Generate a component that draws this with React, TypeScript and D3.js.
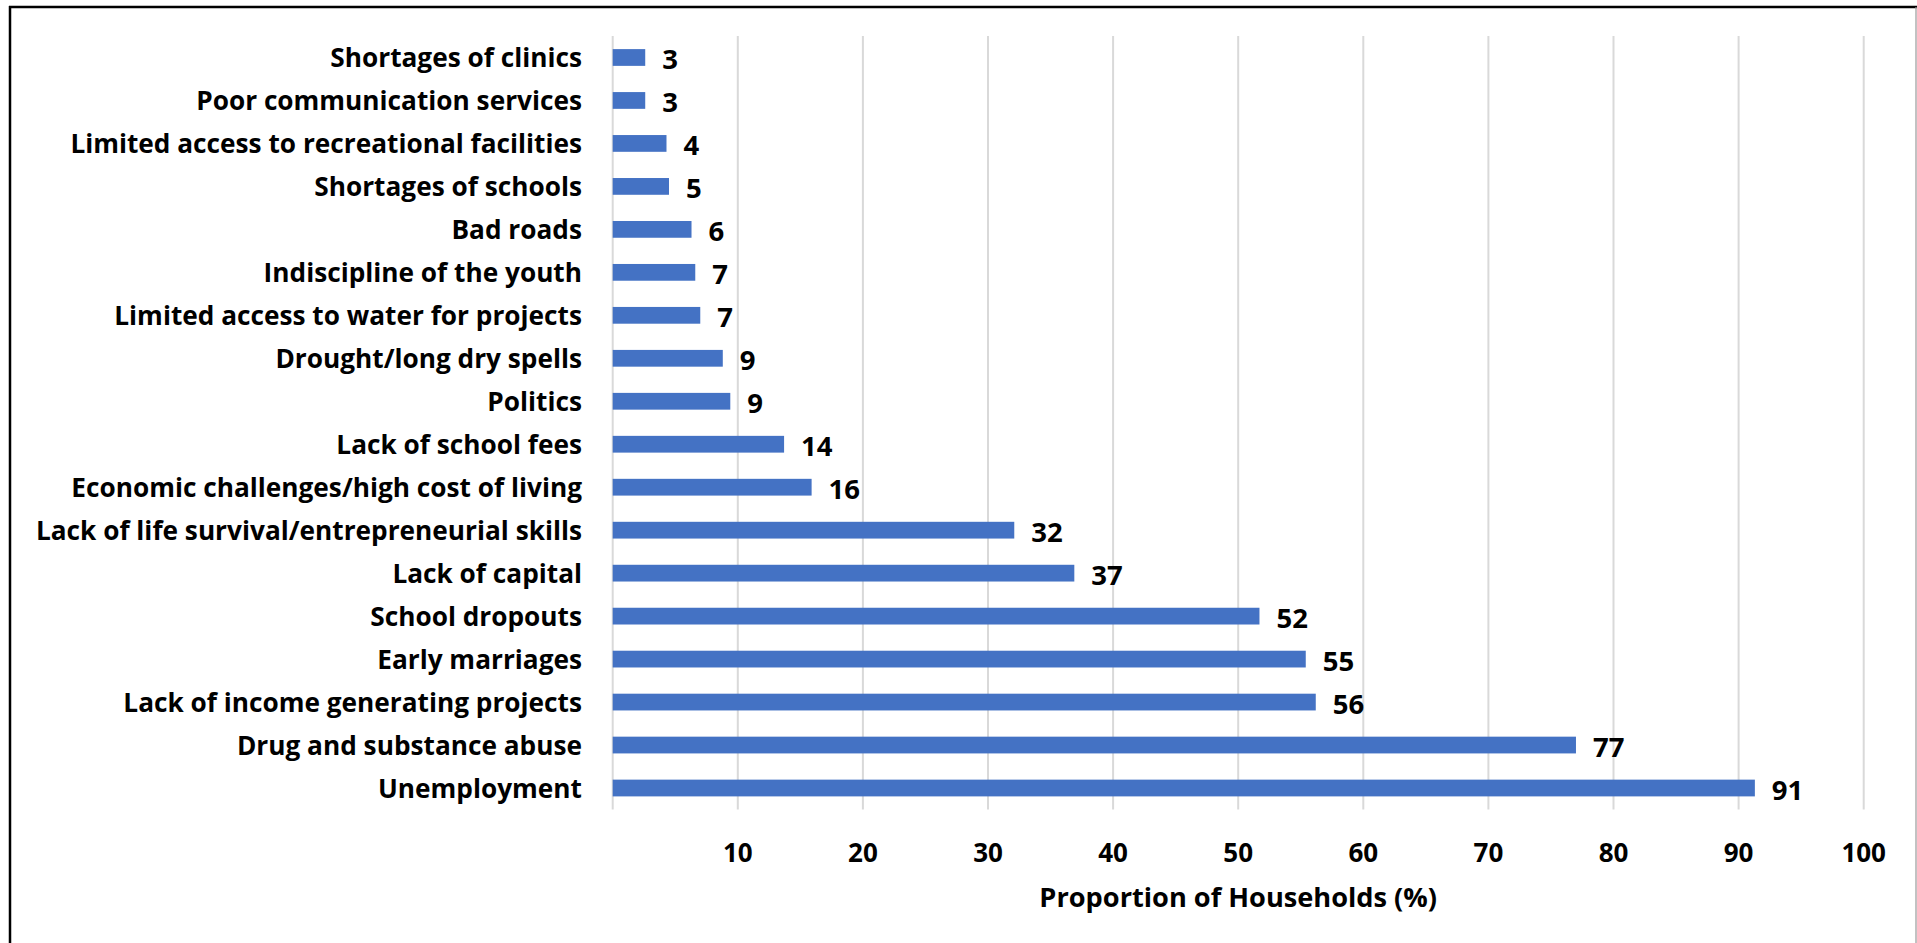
import React from "react";
import * as d3 from "d3";

const categories = [
  "Shortages of clinics",
  "Poor communication services",
  "Limited access to recreational facilities",
  "Shortages of schools",
  "Bad roads",
  "Indiscipline of the youth",
  "Limited access to water for projects",
  "Drought/long dry spells",
  "Politics",
  "Lack of school fees",
  "Economic challenges/high cost of living",
  "Lack of life survival/entrepreneurial skills",
  "Lack of capital",
  "School dropouts",
  "Early marriages",
  "Lack of income generating projects",
  "Drug and substance abuse",
  "Unemployment",
];

const values = [2.6, 2.6, 4.3, 4.5, 6.3, 6.6, 7.0, 8.8, 9.4, 13.7, 15.9, 32.1, 36.9, 51.7, 55.4, 56.2, 77.0, 91.3];

const tickValues = [10, 20, 30, 40, 50, 60, 70, 80, 90, 100];

const axisTitle = "Proportion of Households (%)";

const W = 1917;
const H = 943;
const FONT = "'Open Sans', Lato, sans-serif";

export default function App() {
  const x = d3.scaleLinear().domain([0, 100]).range([612.7, 1863.7]);
  const y = d3
    .scaleBand<string>()
    .domain(categories)
    .range([36, 809.5])
    .paddingInner(0.61)
    .paddingOuter(0.305);
  const fmt = d3.format(".0f");
  const [y0, y1] = y.range();
  const labelX = 582;

  return (
    <svg
      width={W}
      height={H}
      style={{ position: "absolute", left: 0, top: 0, background: "#fff" }}
    >
      <rect x={0} y={0} width={W} height={H} fill="#fff" />
      <line x1={9} x2={W} y1={7} y2={7} stroke="#000" strokeWidth={2.5} />
      <line x1={10} x2={10} y1={6} y2={H} stroke="#000" strokeWidth={2.5} />
      <line x1={1916} x2={1916} y1={7} y2={H} stroke="#999" strokeWidth={1.2} />

      {tickValues.map((t) => (
        <line key={"g" + t} x1={x(t)} x2={x(t)} y1={y0} y2={y1} stroke="#d9d9d9" strokeWidth={2} />
      ))}
      <line x1={x(0)} x2={x(0)} y1={y0} y2={y1} stroke="#d9d9d9" strokeWidth={2} />

      {categories.map((c, i) => (
        <rect
          key={"b" + c}
          x={x(0)}
          y={y(c)}
          width={x(values[i]) - x(0)}
          height={y.bandwidth()}
          fill="#4472C4"
        />
      ))}

      <g transform={`translate(${labelX},0) scale(0.972,1)`}>
        {categories.map((c) => (
          <text
            key={"l" + c}
            x={0}
            y={(y(c) as number) + y.bandwidth() / 2}
            dy="0.36em"
            textAnchor="end"
            fontFamily={FONT}
            fontWeight={700}
            fontSize={27}
            fill="#000"
          >
            {c}
          </text>
        ))}
      </g>

      {categories.map((c, i) => (
        <text
          key={"v" + c}
          x={x(values[i]) + 17}
          y={(y(c) as number) + y.bandwidth() / 2}
          dy="0.42em"
          textAnchor="start"
          fontFamily={FONT}
          fontWeight={700}
          fontSize={27.5}
          fill="#000"
        >
          {fmt(values[i])}
        </text>
      ))}

      {tickValues.map((t) => (
        <text
          key={"t" + t}
          x={x(t)}
          y={862}
          textAnchor="middle"
          fontFamily={FONT}
          fontWeight={700}
          fontSize={26}
          fill="#000"
        >
          {t}
        </text>
      ))}

      <text
        x={(x(0) + x(100)) / 2}
        y={907.3}
        textAnchor="middle"
        fontFamily={FONT}
        fontWeight={700}
        fontSize={27.2}
        fill="#000"
      >
        {axisTitle}
      </text>
    </svg>
  );
}
